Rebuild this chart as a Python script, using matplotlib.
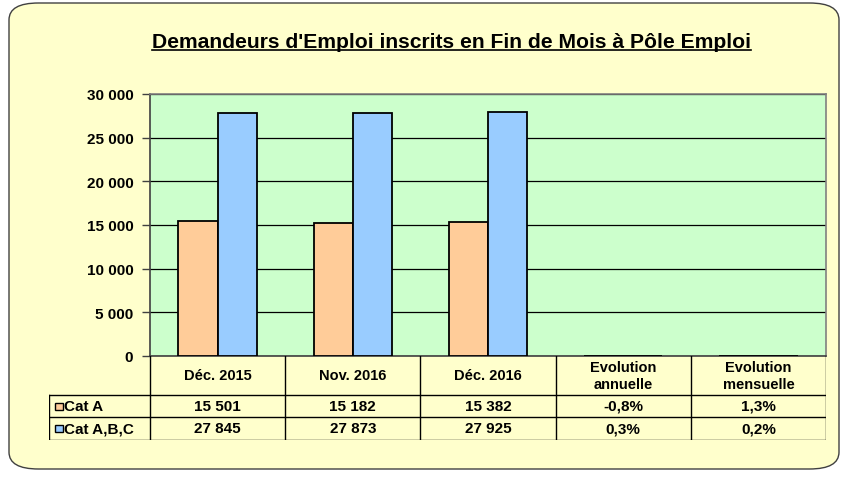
import matplotlib.pyplot as plt
import numpy as np
from matplotlib.patches import FancyBboxPatch, Rectangle
from matplotlib.ticker import FuncFormatter

plt.rcParams['font.family'] = ['Liberation Sans', 'DejaVu Sans']

categories = ['Déc. 2015', 'Nov. 2016', 'Déc. 2016', 'Evolution\nannuelle', 'Evolution\nmensuelle']
series_names = ['Cat A', 'Cat A,B,C']
cat_a = [15501, 15182, 15382, -0.008, 0.013]
cat_abc = [27845, 27873, 27925, 0.003, 0.002]
cat_a_labels = ['15 501', '15 182', '15 382', '-0,8%', '1,3%']
cat_abc_labels = ['27 845', '27 873', '27 925', '0,3%', '0,2%']
colors = ['#FFCC99', '#99CCFF']

W, H = 842, 481
fig = plt.figure(figsize=(W / 100, H / 100), dpi=100)
fig.patch.set_facecolor('white')

# rounded frame of the chart
frame = FancyBboxPatch((9 / W, 11 / H), 830 / W, 466 / H,
                       boxstyle='round,pad=0,rounding_size=0.035',
                       transform=fig.transFigure, facecolor='#FFFFCC',
                       edgecolor='#404040', linewidth=1.0, zorder=-10)
fig.patches.append(frame)

title = fig.text(451 / W, 1 - 42 / H, "Demandeurs d'Emploi inscrits en Fin de Mois à Pôle Emploi",
                 ha='center', va='center', fontsize=15.2, fontweight='bold')

# main chart
ax = fig.add_axes([150 / W, 1 - 357 / H, 676 / W, 262 / H])
ax.set_facecolor('#CCFFCC')
x = np.arange(len(categories))
bw = 0.29
ax.bar(x - bw / 2, cat_a, bw, color=colors[0], edgecolor='black', linewidth=1.3, zorder=3)
ax.bar(x + bw / 2, cat_abc, bw, color=colors[1], edgecolor='black', linewidth=1.3, zorder=3)
ax.set_xlim(-0.5, len(categories) - 0.5)
ax.set_ylim(0, 30000)
ax.set_yticks(np.arange(0, 30001, 5000))
ax.yaxis.set_major_formatter(FuncFormatter(lambda v, p: f'{int(v):,}'.replace(',', ' ')))
ax.yaxis.grid(True, color='black', linewidth=0.9, zorder=1)
ax.set_xticks([])
ax.tick_params(axis='y', direction='out', length=6, width=1, color='#404040', pad=6)
for lab in ax.get_yticklabels():
    lab.set_fontweight('bold')
    lab.set_fontsize(11)
for s in ax.spines.values():
    s.set_color('#808080')
    s.set_linewidth(1.2)
ax.spines['left'].set_color('#404040')
ax.spines['bottom'].set_color('#404040')

# data table below the chart
label_w = (150 - 49) / 135.2
tab = fig.add_axes([49 / W, 1 - 441 / H, (826 - 49) / W, 84 / H])
tab.set_xlim(-0.5 - label_w, len(categories) - 0.5)
tab.set_ylim(0, 84)
tab.axis('off')
lk = dict(color='black', linewidth=1.0)
y_rows = [0, 23, 45, 84]
for yy in y_rows[:3]:
    tab.plot([-0.5 - label_w, len(categories) - 0.5], [yy, yy], **lk)
tab.plot([-0.5 - label_w] * 2, [0, 45], **lk)
for b in np.arange(len(categories) + 1) - 0.5:
    tab.plot([b, b], [0, 84], **lk)

for i, c in enumerate(categories):
    tab.text(i, (45 + 84) / 2, c, ha='center', va='center', fontsize=10.5,
             fontweight='bold', linespacing=1.3)
    tab.text(i, (23 + 45) / 2, cat_a_labels[i], ha='center', va='center',
             fontsize=11, fontweight='bold')
    tab.text(i, 23 / 2, cat_abc_labels[i], ha='center', va='center',
             fontsize=11, fontweight='bold')

for j, (name, col, yc) in enumerate(zip(series_names, colors, [34, 11.5])):
    tab.add_patch(Rectangle((-0.5 - label_w + 0.045, yc - 3.5), 0.055, 7,
                            facecolor=col, edgecolor='black', linewidth=1.0))
    tab.text(-0.5 - label_w + 0.11, yc, name, ha='left', va='center',
             fontsize=11, fontweight='bold')

# underline the title over its own width
fig.canvas.draw()
bb = title.get_window_extent().transformed(fig.transFigure.inverted())
fig.add_artist(plt.Line2D([bb.x0, bb.x1], [bb.y0 + 1 / H, bb.y0 + 1 / H],
                          transform=fig.transFigure, color='black', linewidth=1.2))

fig.savefig('out.png', dpi=100)
